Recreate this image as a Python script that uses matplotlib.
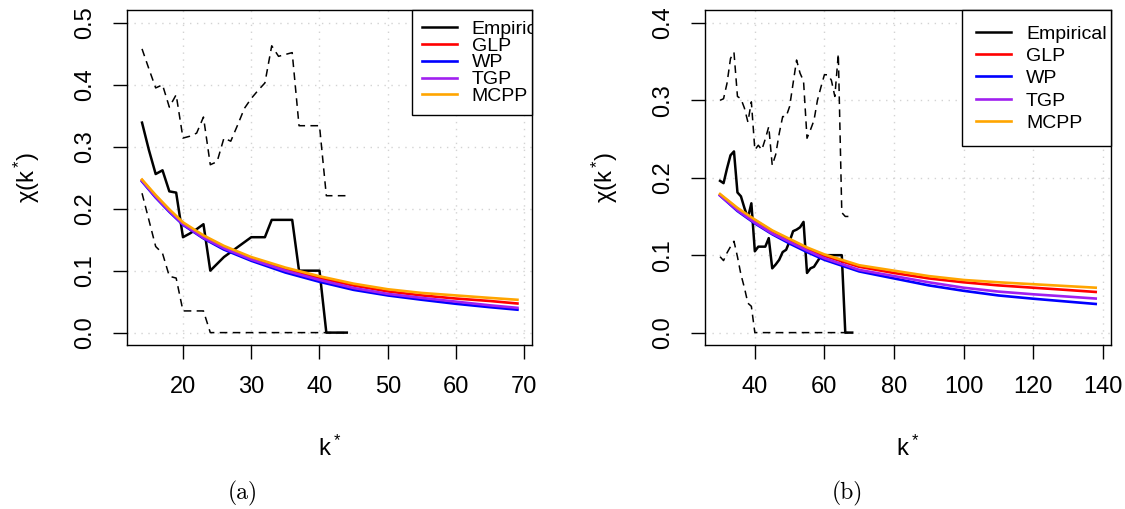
import matplotlib
matplotlib.use('Agg')
import matplotlib.pyplot as plt

plt.rcParams['font.family'] = ['Liberation Sans', 'DejaVu Sans']
plt.rcParams['mathtext.fontset'] = 'custom'
plt.rcParams['mathtext.rm'] = 'Liberation Sans'
plt.rcParams['mathtext.it'] = 'Liberation Sans'
plt.rcParams['mathtext.bf'] = 'Liberation Sans:bold'

# ---- panel (a) data ----
k_emp_a = list(range(14, 45))
emp_a = [0.339, 0.295, 0.256, 0.262, 0.228, 0.226, 0.154, 0.160, 0.167, 0.175,
         0.100, 0.111, 0.122, 0.130, 0.138, 0.146, 0.154, 0.154, 0.154, 0.182,
         0.182, 0.182, 0.182, 0.100, 0.100, 0.100, 0.100, 0.0, 0.0, 0.0, 0.0]
up_a = [0.458, 0.426, 0.395, 0.400, 0.364, 0.384, 0.314, 0.317, 0.322, 0.348,
        0.271, 0.276, 0.314, 0.309, 0.335, 0.362, 0.378, 0.391, 0.403, 0.463,
        0.446, 0.449, 0.452, 0.334, 0.334, 0.334, 0.334, 0.221, 0.221, 0.221, 0.221]
lo_a = [0.225, 0.182, 0.139, 0.128, 0.091, 0.088, 0.035, 0.035, 0.035, 0.035,
        0.0, 0.0, 0.0, 0.0, 0.0, 0.0, 0.0, 0.0, 0.0, 0.0,
        0.0, 0.0, 0.0, 0.0, 0.0, 0.0, 0.0, 0.0, 0.0, 0.0, 0.0]
k_mod_a = [14, 16, 18, 20, 23, 26, 30, 35, 40, 45, 50, 55, 60, 65, 69]
glp_a = [0.246, 0.220, 0.197, 0.176, 0.155, 0.138, 0.120, 0.102, 0.088, 0.076, 0.0665, 0.060, 0.055, 0.051, 0.047]
wp_a = [0.244, 0.218, 0.195, 0.174, 0.152, 0.134, 0.116, 0.097, 0.082, 0.069, 0.060, 0.053, 0.0465, 0.041, 0.037]
tgp_a = [0.245, 0.219, 0.196, 0.175, 0.153, 0.136, 0.118, 0.100, 0.085, 0.072, 0.0625, 0.056, 0.050, 0.044, 0.040]
mcpp_a = [0.247, 0.222, 0.199, 0.178, 0.157, 0.140, 0.122, 0.105, 0.091, 0.079, 0.070, 0.064, 0.060, 0.056, 0.053]

# ---- panel (b) data ----
k_emp_b = list(range(30, 69))
emp_b = [0.196, 0.193, 0.212, 0.229, 0.234, 0.181, 0.176, 0.161, 0.148, 0.167,
         0.105, 0.111, 0.111, 0.111, 0.122, 0.083, 0.088, 0.094, 0.104, 0.107,
         0.118, 0.131, 0.133, 0.136, 0.143, 0.077, 0.083, 0.085, 0.092, 0.099,
         0.100, 0.100, 0.100, 0.100, 0.100, 0.100, 0.0, 0.0, 0.0]
up_b = [0.300, 0.302, 0.322, 0.354, 0.362, 0.305, 0.302, 0.290, 0.272, 0.298,
        0.236, 0.242, 0.236, 0.250, 0.266, 0.216, 0.230, 0.257, 0.279, 0.279,
        0.292, 0.322, 0.352, 0.335, 0.325, 0.251, 0.262, 0.274, 0.300, 0.317,
        0.333, 0.333, 0.326, 0.305, 0.360, 0.155, 0.150, 0.150, 0.150]
lo_b = [0.098, 0.093, 0.103, 0.111, 0.118, 0.098, 0.075, 0.058, 0.038, 0.034,
        0.0, 0.0, 0.0, 0.0, 0.0, 0.0, 0.0, 0.0, 0.0, 0.0,
        0.0, 0.0, 0.0, 0.0, 0.0, 0.0, 0.0, 0.0, 0.0, 0.0,
        0.0, 0.0, 0.0, 0.0, 0.0, 0.0, 0.0, 0.0, 0.0]
k_mod_b = [30, 35, 40, 45, 50, 55, 60, 70, 80, 90, 100, 110, 120, 130, 138]
glp_b = [0.178, 0.160, 0.145, 0.131, 0.119, 0.108, 0.099, 0.085, 0.077, 0.070, 0.065, 0.061, 0.058, 0.055, 0.0525]
wp_b = [0.177, 0.157, 0.141, 0.127, 0.115, 0.104, 0.094, 0.079, 0.070, 0.061, 0.054, 0.048, 0.0438, 0.040, 0.037]
tgp_b = [0.177, 0.158, 0.142, 0.128, 0.117, 0.106, 0.096, 0.081, 0.073, 0.065, 0.058, 0.053, 0.0495, 0.0465, 0.044]
mcpp_b = [0.179, 0.161, 0.146, 0.132, 0.121, 0.110, 0.101, 0.087, 0.080, 0.073, 0.068, 0.065, 0.0625, 0.060, 0.058]

labels = ['Empirical', 'GLP', 'WP', 'TGP', 'MCPP']
colors = ['black', '#FF0000', '#0000FF', '#A020F0', '#FFA500']


def panel(ax, k_emp, emp, up, lo, k_mod, models, xlim, ylim, xticks, yticks, leg_w, leg_sp, leg_pad):
    ax.plot(k_emp, emp, color='black', lw=1.8, label=labels[0])
    ax.plot(k_emp, up, color='black', lw=1.1, ls=(0, (5, 3.5)))
    ax.plot(k_emp, lo, color='black', lw=1.1, ls=(0, (5, 3.5)))
    for m, lab, col in zip(models, labels[1:], colors[1:]):
        ax.plot(k_mod, m, color=col, lw=1.9, label=lab)
    ax.set_xlim(xlim)
    ax.set_ylim(ylim)
    ax.set_xticks(xticks)
    ax.set_yticks(yticks)
    ax.set_yticklabels(['%.1f' % v for v in yticks], rotation=90, va='center')
    ax.grid(color='#D3D3D3', linestyle=(0, (1, 4)), linewidth=1)
    ax.set_axisbelow(True)
    ax.tick_params(direction='out', length=10, width=1, labelsize=17, pad=12, colors='black')
    for s in ax.spines.values():
        s.set_linewidth(1.0)
        s.set_color('black')
    ax.set_xlabel(r'$\mathrm{k\,}^{*}$', fontsize=17, va='center')
    ax.xaxis.set_label_coords(0.5, -0.308)
    ax.set_ylabel(r'$\chi(\mathrm{k\,}^{*})$', fontsize=17, va='center')
    ax.yaxis.set_label_coords(-0.247, 0.5)
    leg = ax.legend(loc='upper right', bbox_to_anchor=(1 - leg_w, 0, leg_w, 1), mode='expand',
                    borderaxespad=0, fontsize=14, handlelength=1.8, handletextpad=0.75,
                    borderpad=leg_pad, labelspacing=leg_sp, fancybox=False, framealpha=1,
                    edgecolor='black')
    leg.get_frame().set_linewidth(1.0)
    for t in leg.get_texts():
        t.set_clip_box(ax.bbox)
        t.set_clip_on(True)
    return leg


fig = plt.figure(figsize=(11.25, 5.09), dpi=100)
ax1 = fig.add_axes([0.1129, 0.3222, 0.3604, 0.6572])
ax2 = fig.add_axes([0.6267, 0.3222, 0.3606, 0.6572])

panel(ax1, k_emp_a, emp_a, up_a, lo_a, k_mod_a, [glp_a, wp_a, tgp_a, mcpp_a],
      (11.8, 71.2), (-0.02, 0.52), [20, 30, 40, 50, 60, 70], [0.0, 0.1, 0.2, 0.3, 0.4, 0.5],
      0.296, -0.04, 0.5)
panel(ax2, k_emp_b, emp_b, up_b, lo_b, k_mod_b, [glp_b, wp_b, tgp_b, mcpp_b],
      (25.68, 142.32), (-0.016, 0.416), [40, 60, 80, 100, 120, 140], [0.0, 0.1, 0.2, 0.3, 0.4],
      0.367, 0.24, 0.75)

fig.text(0.216, 0.031, '(a)', family='cmr10', fontsize=17, ha='center', va='center')
fig.text(0.753, 0.031, '(b)', family='cmr10', fontsize=17, ha='center', va='center')

fig.savefig('out.png', dpi=100)
